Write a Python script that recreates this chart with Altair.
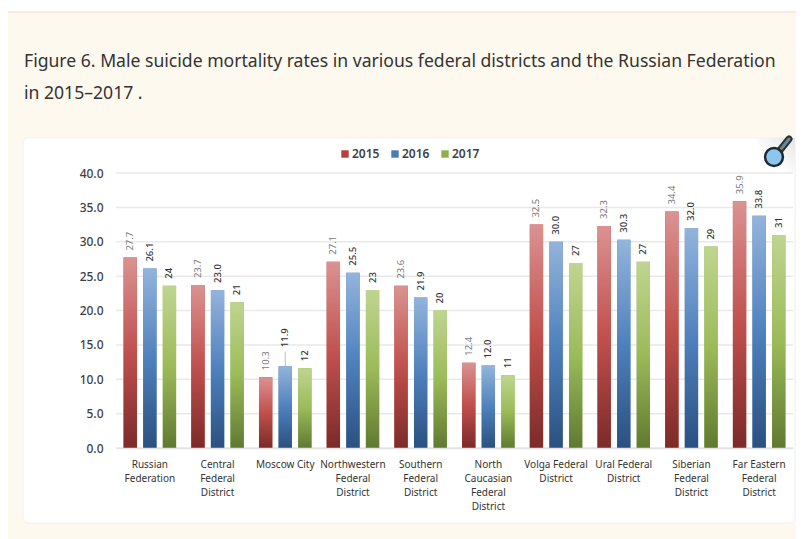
import altair as alt
import pandas as pd

categories = ["Russian\nFederation", "Central\nFederal\nDistrict", "Moscow City",
              "Northwestern\nFederal\nDistrict", "Southern\nFederal\nDistrict",
              "North\nCaucasian\nFederal\nDistrict", "Volga Federal\nDistrict",
              "Ural Federal\nDistrict", "Siberian\nFederal\nDistrict",
              "Far Eastern\nFederal\nDistrict"]
years = ["2015", "2016", "2017"]
values_2015 = [27.7, 23.7, 10.3, 27.1, 23.6, 12.4, 32.5, 32.3, 34.4, 35.9]
values_2016 = [26.1, 23.0, 11.9, 25.5, 21.9, 12.0, 30.0, 30.3, 32.0, 33.8]
values_2017 = [23.6, 21.2, 11.6, 23.0, 20.0, 10.6, 26.9, 27.1, 29.3, 31.0]
labels_2015 = ["27.7", "23.7", "10.3", "27.1", "23.6", "12.4", "32.5", "32.3", "34.4", "35.9"]
labels_2016 = ["26.1", "23.0", "11.9", "25.5", "21.9", "12.0", "30.0", "30.3", "32.0", "33.8"]
labels_2017 = ["24", "21", "12", "23", "20", "11", "27", "27", "29", "31"]
y_ticks = [0, 5, 10, 15, 20, 25, 30, 35, 40]
title_lines = ["Figure 6. Male suicide mortality rates in various federal districts and the Russian Federation",
               "in 2015\u20132017 ."]

rows = []
for yr, vals, labs in zip(years, [values_2015, values_2016, values_2017],
                          [labels_2015, labels_2016, labels_2017]):
    for c, v, l in zip(categories, vals, labs):
        rows.append({"district": c, "year": yr, "rate": v, "label": l})
df = pd.DataFrame(rows)

PX, PY = 116, 173   # plot origin on the page
W, H = 677, 275
FONT = "Noto Sans"

def px(v): return alt.value(v - PX)
def py(v): return alt.value(v - PY)

y_scale = alt.Scale(domain=[0, 40], nice=False)
y_axis = alt.Axis(values=y_ticks, format=".1f", labelFontSize=12, labelFont=FONT,
                  labelFontWeight=500, labelColor="#404040", labelPadding=13,
                  ticks=False, domain=False, grid=False, zindex=1)
xenc = alt.X("district:N", sort=categories, title=None,
             scale=alt.Scale(domain=categories, paddingInner=0, paddingOuter=0),
             axis=alt.Axis(labelAngle=0, labelExpr="split(datum.label,'\\n')", labelFontSize=10,
                           labelFont=FONT, labelColor="#333333", labelLineHeight=14.3, labelLimit=200,
                           labelPadding=11, ticks=False, domain=True, domainColor="#E3E3E3",
                           domainWidth=1.5, zindex=1, labelBaseline="top"))
yenc = alt.Y("rate:Q", title=None, scale=y_scale, axis=y_axis)
off = alt.XOffset("year:N", scale=alt.Scale(domain=years, paddingInner=0.32, paddingOuter=0.387))

base = alt.Chart(df)
blank = alt.Chart(pd.DataFrame({"a": [0]}))

card = blank.mark_rect(fill="#FEF9EF", stroke="#F8D8C6", strokeWidth=1.2, cornerRadius=5).encode(
    x=px(0), x2=px(830), y=py(12), y2=py(570))
panel = blank.mark_rect(fill="#FFFFFF", stroke="#F1F1EE", strokeWidth=1, cornerRadius=5).encode(
    x=px(23), x2=px(795), y=py(138), y2=py(523))
# magnifier icon
corner_fill = alt.Gradient(gradient="linear", x1=0, y1=1, x2=1, y2=0, stops=[
    alt.GradientStop(color="#FFFFFF", offset=0.35), alt.GradientStop(color="#E4E4E4", offset=1)])
corner = blank.mark_rect(fill=corner_fill).encode(x=px(757), x2=px(795), y=py(138), y2=py(172))
handle_o = blank.mark_rule(color="#26323A", strokeWidth=7, strokeCap="round").encode(
    x=px(781), x2=px(789), y=py(149), y2=py(139))
handle_i = blank.mark_rule(color="#71858F", strokeWidth=3, strokeCap="round").encode(
    x=px(781), x2=px(789), y=py(149), y2=py(139))
lens = blank.mark_point(shape="circle", filled=True, fill="#8CC6EE", stroke="#1E2A33", strokeWidth=2.5,
                        opacity=1, size=320).encode(x=px(774), y=py(157))

grid = alt.Chart(pd.DataFrame({"tick": y_ticks})).mark_rule(color="#E9E9E9", strokeWidth=1.5).encode(
    y=alt.Y("tick:Q", scale=y_scale, title=None, axis=y_axis))

flat = base.mark_bar().encode(
    x=xenc, xOffset=off, y=yenc,
    color=alt.Color("year:N", scale=alt.Scale(domain=years, range=["#B5413F", "#4A7DB8", "#8FB04F"]),
                    legend=alt.Legend(orient="none", legendX=223, legendY=-25, direction="horizontal",
                                      title=None, symbolType="square", symbolSize=55, columns=3,
                                      labelFontSize=12, labelFont=FONT, labelFontWeight=600,
                                      labelColor="#404040", symbolStrokeWidth=0, columnPadding=9,
                                      labelOffset=1)))

def grad(c0, c1, c2):
    return alt.Gradient(gradient="linear", x1=0, x2=0, y1=0, y2=1, stops=[
        alt.GradientStop(color=c0, offset=0), alt.GradientStop(color=c1, offset=0.5),
        alt.GradientStop(color=c2, offset=1)])

fills = {"2015": grad("#DB9292", "#C0504D", "#7C2A28"),
         "2016": grad("#93B4DC", "#4F81BD", "#2A5080"),
         "2017": grad("#BFD590", "#9BBB59", "#5F7A30")}
bars = [base.transform_filter(alt.datum.year == yr).mark_bar(color=fills[yr]).encode(
            x=xenc, xOffset=off, y=yenc) for yr in years]

label_colors = {"2015": "#7A7A7A", "2016": "#333333", "2017": "#333333"}
label_weights = {"2015": 400, "2016": 500, "2017": 500}
is_moscow16 = "datum.year=='2016' && indexof(datum.district,'Moscow')>=0"
texts = [base.transform_filter(alt.datum.year == yr).transform_filter("!(" + is_moscow16 + ")").mark_text(
            angle=270, align="left", baseline="middle", dx=7, fontSize=9.5, font=FONT,
            fontWeight=label_weights[yr], color=label_colors[yr]).encode(
            x=xenc, xOffset=off, y=yenc, text="label:N") for yr in years]
mos_text = base.transform_filter(is_moscow16).mark_text(
    angle=270, align="left", baseline="middle", dx=19, fontSize=9.5, font=FONT, fontWeight=500,
    color="#333333").encode(x=xenc, xOffset=off, y=yenc, text="label:N")
leader = base.transform_filter(is_moscow16).mark_rule(color="#BDBDBD", strokeWidth=1).encode(
    x=xenc, xOffset=off, y=yenc, y2=alt.Y2(datum=14.0))

chart = alt.layer(card, panel, corner, handle_o, handle_i, lens, grid, flat, *bars, *texts, leader, mos_text).properties(
    width=W, height=H,
    title=alt.TitleParams(text=title_lines, anchor="start", frame="group", dx=24 - PX, dy=91, offset=0,
                          fontSize=17.6, fontWeight="normal", font=FONT, color="#333333", lineHeight=32),
    padding={"left": PX - 8, "top": PY - 8, "right": 788 - (PX - 8) - W, "bottom": 531 - (PY - 8) - H},
    autosize=alt.AutoSizeParams(type="none"),
    background="#FFFFFF",
).configure_view(stroke=None)

chart.save("out.html", embed_options={"renderer": "svg", "actions": False})
